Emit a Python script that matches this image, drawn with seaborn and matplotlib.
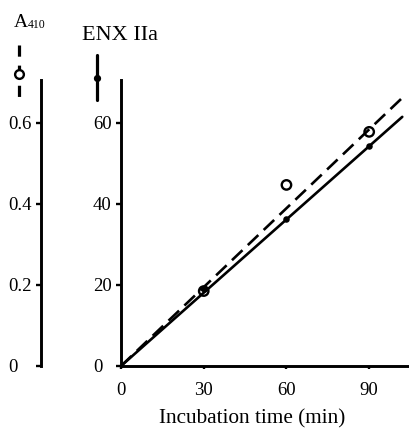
import matplotlib
matplotlib.use("Agg")
import matplotlib.pyplot as plt
from matplotlib.lines import Line2D
import pandas as pd
import seaborn as sns

# ---- data ----
time_min = [30, 60, 90]
a410 = [0.185, 0.447, 0.578]          # open circles, left axis
enx_iia = [19.0, 36.3, 54.3]          # filled dots, right axis
fit_time = [0, 102]
fit_a410 = [0, 0.662]                 # dashed regression line
fit_enx = [0, 61.5]                   # solid regression line
x_ticks = [0, 30, 60, 90]
enx_ticks = [0, 20, 40, 60]
a410_ticks = [0, 0.2, 0.4, 0.6]
a410_tick_labels = ["0", "0.2", "0.4", "0.6"]

pts = pd.DataFrame({"time": time_min, "a410": a410, "enx": enx_iia})
fits = pd.DataFrame({"time": fit_time, "a410": fit_a410, "enx": fit_enx})

sns.set_theme(style="white")
plt.rcParams["font.family"] = ["Liberation Serif", "DejaVu Serif"]
plt.rcParams.update({
    "text.color": "black", "axes.labelcolor": "black",
    "xtick.color": "black", "ytick.color": "black",
    "xtick.labelcolor": "black", "ytick.labelcolor": "black",
})

W, H = 410, 428
fig = plt.figure(figsize=(W / 100, H / 100), dpi=100)
fig.patch.set_facecolor("white")

L, R, B, T = 121, 410, 366, 80
ax = fig.add_axes([L / W, 1 - B / H, (R - L) / W, (B - T) / H])
ax.set_facecolor("white")
tw = ax.twinx()

lw = 1.9
# ENX IIa (solid line, filled dots)
sns.lineplot(data=fits, x="time", y="enx", ax=ax, color="black", lw=lw)
sns.scatterplot(data=pts, x="time", y="enx", ax=ax, color="black", s=22,
                edgecolor="black", linewidth=0, zorder=5)
# A410 (dashed line, open circles)
sns.lineplot(data=fits, x="time", y="a410", ax=tw, color="black", lw=lw,
             linestyle=(0, (5.5, 2.8)))
sns.scatterplot(data=pts, x="time", y="a410", ax=tw, facecolor="none",
                edgecolor="black", linewidth=1.7, s=46, zorder=5)

ax.set_xlim(0, 104.8)
ax.set_ylim(0, 70.6)
tw.set_ylim(0, 0.706)
ax.set_xticks(x_ticks)
ax.set_yticks(enx_ticks)
tw.set_yticks(a410_ticks)
tw.set_yticklabels(a410_tick_labels)
ax.set_ylabel("")
tw.set_ylabel("")
ax.set_xlabel("Incubation time (min)", fontsize=15.3, color="black")
ax.xaxis.set_label_coords(0.455, -0.152)

for a in (ax, tw):
    for s in a.spines.values():
        s.set_visible(False)
        s.set_linewidth(2.1)
        s.set_color("black")
ax.spines["left"].set_visible(True)
ax.spines["bottom"].set_visible(True)
tw.spines["left"].set_visible(True)
tw.spines["left"].set_position(("axes", (41 - L) / (R - L)))
tw.yaxis.set_ticks_position("left")
tw.yaxis.set_label_position("left")

ax.tick_params(axis="y", direction="out", length=3.6, width=1.7,
               labelsize=13.5, pad=16.5, left=True, colors="black")
ax.tick_params(axis="x", direction="out", length=2, width=1.7,
               labelsize=13.5, pad=9.3, bottom=True, colors="black")
tw.tick_params(axis="y", direction="out", length=3.6, width=1.7,
               labelsize=13.5, pad=20, left=True, right=False,
               labelleft=True, labelright=False, colors="black")
for t in ax.yaxis.get_major_ticks():
    t.label1.set_horizontalalignment("left")
for t in tw.yaxis.get_major_ticks():
    t.label1.set_horizontalalignment("left")

# titles
fig.text(14 / W, 1 - 27 / H, "A", fontsize=14, ha="left", va="baseline",
         color="black")
fig.text(28 / W, 1 - 28 / H, "410", fontsize=8.5, ha="left", va="baseline",
         color="black")
fig.text(82 / W, 1 - 40 / H, "ENX IIa", fontsize=16, ha="left",
         va="baseline", color="black")

# key glyphs above the axes
fy = lambda p: 1 - p / H
fig.add_artist(Line2D([19 / W, 19 / W], [fy(45), fy(100)], color="black",
                      lw=2.3, linestyle=(0, (3.5, 2.8))))
fig.add_artist(Line2D([19 / W], [fy(74)], marker="o", markersize=6.3,
                      mfc="white", mec="black", mew=1.7, linestyle="none"))
fig.add_artist(Line2D([97 / W, 97 / W], [fy(55), fy(75)], color="black", lw=2.3))
fig.add_artist(Line2D([97 / W, 97 / W], [fy(82), fy(100)], color="black", lw=2.3))
fig.add_artist(Line2D([97 / W], [fy(78)], marker="o", markersize=4.2,
                      color="black", linestyle="none"))

fig.savefig("out.png", dpi=100, facecolor="white")
